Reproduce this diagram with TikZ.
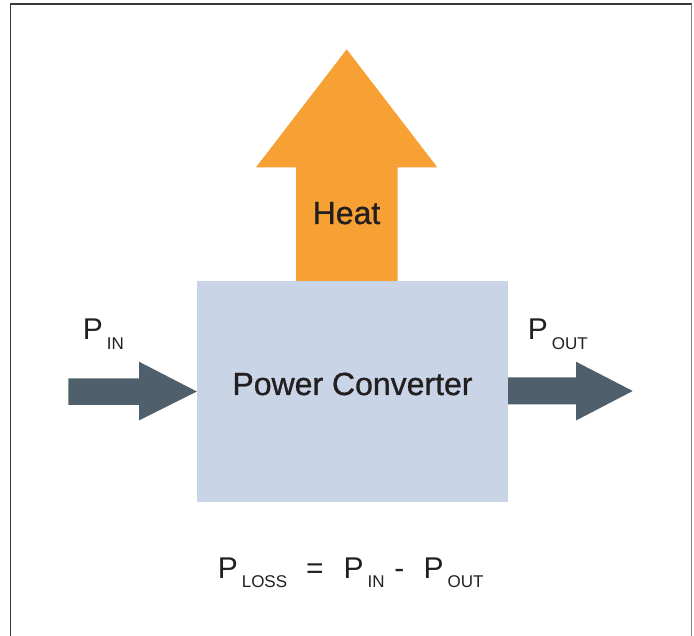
\documentclass[tikz,border=0pt]{standalone}
\usepackage{fontspec}
\setmainfont{Liberation Sans}
\newfontfamily\medfont[BoldFont={Liberation Sans},BoldFeatures={FakeBold=0.9}]{Liberation Sans}
\definecolor{heatc}{HTML}{F7A033}
\definecolor{boxc}{HTML}{C9D5E6}
\definecolor{arrc}{HTML}{4F5F6C}
\definecolor{txtc}{HTML}{231F20}
\definecolor{framec}{HTML}{3A3A3A}
\newcommand\Psub[1]{P\kern4pt\raisebox{-9.3pt}{\fontsize{17}{17}\selectfont #1}}
\tikzset{
  big/.style={font=\medfont\bfseries\fontsize{32}{32}\selectfont, text=txtc, inner sep=0pt},
  plabel/.style={font=\fontsize{30}{30}\selectfont, text=txtc, inner sep=0pt, anchor=base west},
  convbox/.style={fill=boxc, draw=none, inner sep=0pt, minimum width=311pt, minimum height=221pt,
    text height=7pt, text depth=0pt, font=\medfont\bfseries\fontsize{32}{32}\selectfont, text=txtc},
  flowarrow/.style={fill=arrc, draw=none},
  heatarrow/.style={fill=heatc, draw=none},
}
\begin{document}
\begin{tikzpicture}[x=1pt,y=-1pt]
\useasboundingbox (0,0) rectangle (694,636);
% frame
\draw[framec, line width=1.6pt] (10.5,636) -- (10.5,4) -- (691.5,4);
\draw[gray, line width=1.8pt] (691.5,4) -- (691.5,636);
% heat arrow
\fill[heatarrow] (296,281.5) -- (296,167.3) -- (256,167.3) -- (346.7,49.3) -- (437.3,167.3) -- (397.7,167.3) -- (397.7,281.5) -- cycle;
% converter box
\node[convbox] (conv) at (352.5,391.5) {Power Converter};
\node[big, anchor=base] (heat) at (346.5,224) {Heat};
% input arrow
\coordinate (intip) at (196.8,391.5);
\fill[flowarrow] (68.3,378.3) -- (139,378.3) -- (139,361.7) -- (intip) -- (139,420.5) -- (139,405) -- (68.3,405) -- cycle;
% output arrow
\coordinate (outtip) at (632.7,391);
\fill[flowarrow] (conv.east |- 0,377.5) -- (576,377.5) -- (576,361.7) -- (outtip) -- (576,420.5) -- (576,404.5) -- (conv.east |- 0,404.5) -- cycle;
% labels
\node[plabel] (pin) at (82.6,340) {\Psub{IN}};
\node[plabel] (pout) at (527.6,340) {\Psub{OUT}};
\node[plabel] (formula) at (217.6,578.5) {\Psub{LOSS}\hspace{19pt}=\hspace{20pt}\Psub{IN}\hspace{9.6pt}-\hspace{19.4pt}\Psub{OUT}};
\end{tikzpicture}
\end{document}
